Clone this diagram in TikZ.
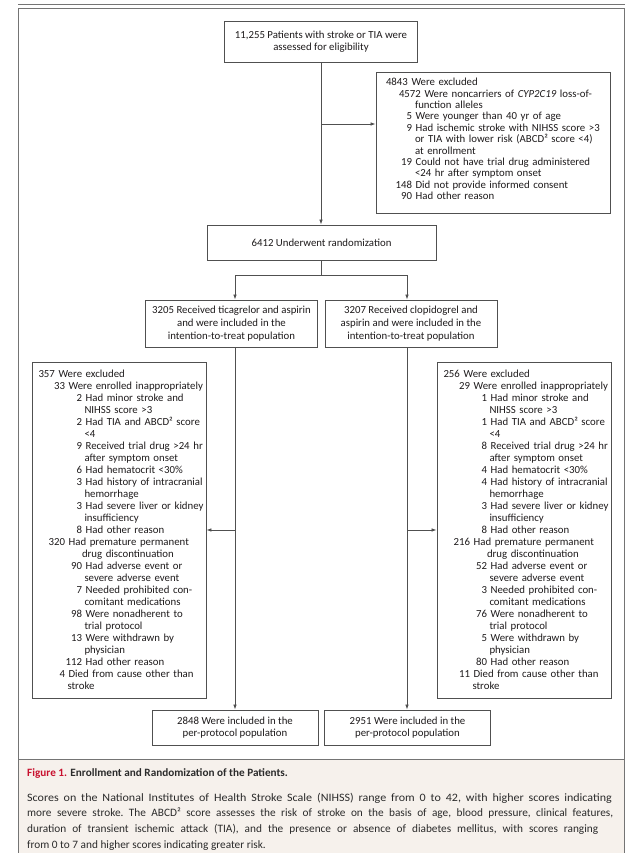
\documentclass[tikz,border=0pt]{standalone}
\usepackage{fontspec}
\setmainfont{Carlito}
\usetikzlibrary{arrows.meta}
\definecolor{txt}{HTML}{1E1B1C}
\definecolor{boxc}{HTML}{505050}
\definecolor{linec}{HTML}{505050}
\definecolor{framec}{HTML}{747474}
\definecolor{capbg}{HTML}{F6F1EC}
\definecolor{figred}{HTML}{C8102E}
\definecolor{captxt}{HTML}{2B2B2B}
\newcommand\Ct[2]{\hspace*{#1pt}#2}
\newcommand\It[3]{\hspace*{#1pt}\llap{#2}\ #3}
\newcommand\boxfont{\fontsize{10.8}{12}\selectfont}
\newcommand\CapLine[2]{\hbox to #1pt{\frenchspacing\spaceskip=0.22em plus 2em minus 0.05em\relax #2}}
\begin{document}
\begin{tikzpicture}[x=1pt,y=-1pt,
  box/.style={draw=boxc, line width=0.9pt, fill=white, inner sep=0pt, font=\boxfont, align=center, text=txt},
  listbox/.style={box, align=left},
  conn/.style={draw=linec, line width=0.8pt},
  arr/.style={conn, -{Latex[length=5pt,width=3.6pt]}},
  capline/.style={anchor=base west, inner sep=0pt, font=\fontsize{11.3}{15.8}\selectfont, text=captxt}]
\useasboundingbox (0,0) rectangle (642,853);
% frame and caption panel
\fill[capbg] (18,759) rectangle (624,853);
\draw[framec, line width=1.4pt] (18,4.7) -- (625,4.7);
\draw[framec, line width=1pt] (18,853) -- (18,8.6) -- (624,8.6) -- (624,853);
\draw[framec, line width=1pt] (18,759) -- (624,759);

% nodes
\node[box, minimum width=193, minimum height=41] (screen) at (321,42)
  {11,255 Patients with stroke or TIA were\\assessed for eligibility};

\node[listbox, minimum width=234, minimum height=141, text width=234,
      font=\fontsize{10.8}{11.4}\selectfont] (excl) at (493,142.5) {%
\Ct{10}{4843 Were excluded}\\
\Ct{23}{4572 Were noncarriers of \textit{CYP2C19} loss-of-}\\
\Ct{39}{function alleles}\\
\It{36}{5}{Were younger than 40 yr of age}\\
\It{36}{9}{Had ischemic stroke with NIHSS score >3}\\
\Ct{39}{or TIA with lower risk (ABCD² score <4)}\\
\Ct{39}{at enrollment}\\
\It{36}{19}{Could not have trial drug administered}\\
\Ct{39}{<24 hr after symptom onset}\\
\It{36}{148}{Did not provide informed consent}\\
\It{36}{90}{Had other reason}\par\vspace*{7pt}};

\node[box, minimum width=229, minimum height=35] (rand) at (321.5,242.5)
  {6412 Underwent randomization};

\node[box, minimum width=172, minimum height=47, font=\fontsize{10.8}{12.8}\selectfont] (armL) at (231.5,323.5)
  {3205 Received ticagrelor and aspirin\\and were included in the\\intention-to-treat population};
\node[box, minimum width=172, minimum height=47, font=\fontsize{10.8}{12.8}\selectfont] (armR) at (411,323.5)
  {3207 Received clopidogrel and\\aspirin and were included in the\\intention-to-treat population};

\node[listbox, minimum width=174, minimum height=336, text width=174] (exL) at (119,530) {%
\Ct{6.5}{357 Were excluded}\\
\It{33}{33}{Were enrolled inappropriately}\\
\It{50}{2}{Had minor stroke and}\\
\Ct{52.5}{NIHSS score >3}\\
\It{50}{2}{Had TIA and ABCD² score}\\
\Ct{52.5}{<4}\\
\It{50}{9}{Received trial drug >24 hr}\\
\Ct{52.5}{after symptom onset}\\
\It{50}{6}{Had hematocrit <30\%}\\
\It{50}{3}{Had history of intracranial}\\
\Ct{52.5}{hemorrhage}\\
\It{50}{3}{Had severe liver or kidney}\\
\Ct{52.5}{insufficiency}\\
\It{50}{8}{Had other reason}\\
\It{33}{320}{Had premature permanent}\\
\Ct{50}{drug discontinuation}\\
\It{50}{90}{Had adverse event or}\\
\Ct{52.5}{severe adverse event}\\
\It{50}{7}{Needed prohibited con-}\\
\Ct{52.5}{comitant medications}\\
\It{50}{98}{Were nonadherent to}\\
\Ct{52.5}{trial protocol}\\
\It{50}{13}{Were withdrawn by}\\
\Ct{52.5}{physician}\\
\It{50}{112}{Had other reason}\\
\It{33}{4}{Died from cause other than}\\
\Ct{35.5}{stroke}};

\node[listbox, minimum width=174, minimum height=336, text width=174] (exR) at (524,530) {%
\Ct{6.5}{256 Were excluded}\\
\It{33}{29}{Were enrolled inappropriately}\\
\It{50}{1}{Had minor stroke and}\\
\Ct{52.5}{NIHSS score >3}\\
\It{50}{1}{Had TIA and ABCD² score}\\
\Ct{52.5}{<4}\\
\It{50}{8}{Received trial drug >24 hr}\\
\Ct{52.5}{after symptom onset}\\
\It{50}{4}{Had hematocrit <30\%}\\
\It{50}{4}{Had history of intracranial}\\
\Ct{52.5}{hemorrhage}\\
\It{50}{3}{Had severe liver or kidney}\\
\Ct{52.5}{insufficiency}\\
\It{50}{8}{Had other reason}\\
\It{33}{216}{Had premature permanent}\\
\Ct{50}{drug discontinuation}\\
\It{50}{52}{Had adverse event or}\\
\Ct{52.5}{severe adverse event}\\
\It{50}{3}{Needed prohibited con-}\\
\Ct{52.5}{comitant medications}\\
\It{50}{76}{Were nonadherent to}\\
\Ct{52.5}{trial protocol}\\
\It{50}{5}{Were withdrawn by}\\
\Ct{52.5}{physician}\\
\It{50}{80}{Had other reason}\\
\It{33}{11}{Died from cause other than}\\
\Ct{35.5}{stroke}};

\node[box, minimum width=166, minimum height=35, font=\fontsize{10.8}{11.8}\selectfont] (ppL) at (235,727.5)
  {2848 Were included in the\\per-protocol population};
\node[box, minimum width=166, minimum height=35, font=\fontsize{10.8}{11.8}\selectfont] (ppR) at (407.5,727.5)
  {2951 Were included in the\\per-protocol population};

% connectors
\coordinate (tx) at (321,124);
\coordinate (bM) at (321.5,275);
\coordinate (bL) at (235,275);
\coordinate (bR) at (407,275);
\draw[arr] (screen.south) -- (screen.south |- rand.north);
\draw[arr] (tx) -- (tx -| excl.west);
\draw[conn] (rand.south) -- (bM);
\draw[conn] (bL) -- (bR);
\draw[arr] (bL) -- (bL |- armL.north);
\draw[arr] (bR) -- (bR |- armR.north);
\draw[arr] (bL |- armL.south) -- (bL |- ppL.north);
\draw[arr] (bR |- armR.south) -- (bR |- ppR.north);
\draw[arr] (bL |- exL.east) -- (exL.east);
\draw[arr] (bR |- exR.west) -- (exR.west);

% caption
\node[anchor=base west, inner sep=0pt, font=\fontsize{11.2}{13}\selectfont\bfseries, text=captxt] (caphead) at (27,776.5)
  {\textcolor{figred}{Figure 1.} Enrollment and Randomization of the Patients.};
\node[capline] (cap1) at (27,801)
  {\scalebox{1.065}[1]{\CapLine{549}{Scores on the National Institutes of Health Stroke Scale (NIHSS) range from 0 to 42, with higher scores indicating}}};
\node[capline] (cap2) at (27,816.8)
  {\CapLine{586}{more severe stroke. The ABCD² score assesses the risk of stroke on the basis of age, blood pressure, clinical features,}};
\node[capline] (cap3) at (27,832.6)
  {\CapLine{571}{duration of transient ischemic attack (TIA), and the presence or absence of diabetes mellitus, with scores ranging}};
\node[capline] (cap4) at (27,848.4)
  {from 0 to 7 and higher scores indicating greater risk.};
\end{tikzpicture}
\end{document}
